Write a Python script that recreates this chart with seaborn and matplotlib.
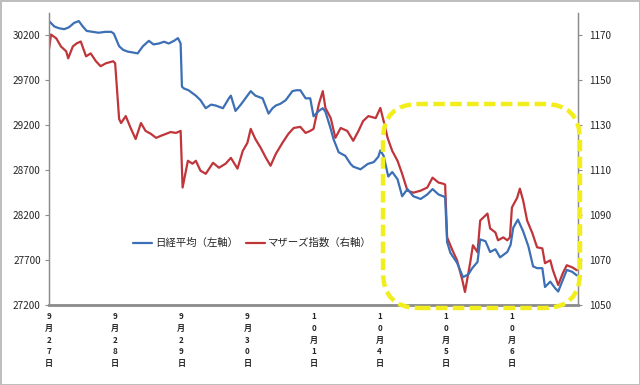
import matplotlib
matplotlib.use("Agg")
import matplotlib.pyplot as plt
from matplotlib.patches import FancyBboxPatch
from matplotlib.ticker import MultipleLocator
import seaborn as sns

# ---- data (t = days since 9/27 open) -------------------------------------
nk_t = [0.00, 0.08, 0.15, 0.23, 0.30, 0.38, 0.45, 0.51, 0.57, 0.66, 0.75, 0.85,
        0.94, 0.98, 1.06, 1.12, 1.19, 1.27, 1.34, 1.42, 1.51, 1.58, 1.66, 1.74,
        1.81, 1.89, 1.95, 1.99, 2.01, 2.04, 2.11, 2.22, 2.29, 2.37, 2.45, 2.52,
        2.63, 2.72, 2.75, 2.82, 2.90, 2.97, 3.05, 3.12, 3.23, 3.32, 3.38, 3.43,
        3.50, 3.58, 3.68, 3.74, 3.80, 3.88, 3.95, 4.00, 4.08, 4.14, 4.18, 4.26,
        4.30, 4.38, 4.48, 4.56, 4.60, 4.71, 4.82, 4.91, 4.98, 5.01, 5.06, 5.13,
        5.19, 5.27, 5.34, 5.42, 5.51, 5.62, 5.72, 5.80, 5.89, 5.96, 5.99, 6.02,
        6.07, 6.17, 6.26, 6.34, 6.40, 6.48, 6.52, 6.60, 6.67, 6.75, 6.82, 6.93,
        6.98, 7.02, 7.09, 7.17, 7.25, 7.32, 7.38, 7.46, 7.50, 7.58, 7.65, 7.70,
        7.77, 7.83, 7.91, 7.98]
nk_v = [30360, 30300, 30280, 30270, 30290, 30340, 30360, 30300, 30250, 30240,
        30230, 30240, 30240, 30220, 30080, 30040, 30020, 30010, 30000, 30080,
        30140, 30100, 30110, 30130, 30110, 30140, 30170, 30110, 29630, 29610,
        29590, 29530, 29480, 29390, 29430, 29420, 29390, 29500, 29530, 29360,
        29430, 29500, 29580, 29530, 29500, 29330, 29390, 29420, 29440, 29480,
        29580, 29590, 29590, 29500, 29500, 29300, 29360, 29390, 29350, 29160,
        29050, 28900, 28860, 28770, 28740, 28710, 28770, 28790, 28850, 28920,
        28860, 28630, 28680, 28600, 28410, 28490, 28410, 28380, 28430, 28490,
        28430, 28410, 28400, 27900, 27780, 27670, 27510, 27540, 27610, 27680,
        27930, 27910, 27790, 27820, 27730, 27790, 27870, 28060, 28150, 28020,
        27850, 27630, 27610, 27610, 27400, 27460, 27390, 27350, 27480, 27590,
        27570, 27530]

mz_t = [0.00, 0.03, 0.11, 0.18, 0.26, 0.29, 0.36, 0.42, 0.48, 0.56, 0.63, 0.71,
        0.78, 0.86, 0.97, 1.00, 1.06, 1.09, 1.16, 1.24, 1.31, 1.39, 1.46, 1.54,
        1.62, 1.69, 1.77, 1.84, 1.92, 1.99, 2.02, 2.10, 2.17, 2.22, 2.29, 2.37,
        2.48, 2.57, 2.67, 2.75, 2.85, 2.93, 3.00, 3.05, 3.12, 3.20, 3.28, 3.35,
        3.43, 3.53, 3.62, 3.70, 3.80, 3.88, 3.95, 4.00, 4.08, 4.14, 4.18, 4.26,
        4.33, 4.41, 4.51, 4.60, 4.68, 4.75, 4.83, 4.94, 5.01, 5.06, 5.12, 5.19,
        5.27, 5.34, 5.42, 5.51, 5.62, 5.72, 5.80, 5.89, 5.96, 5.99, 6.02, 6.10,
        6.17, 6.25, 6.29, 6.37, 6.41, 6.48, 6.52, 6.57, 6.63, 6.67, 6.75, 6.79,
        6.87, 6.93, 6.97, 7.00, 7.08, 7.12, 7.17, 7.23, 7.31, 7.38, 7.46, 7.50,
        7.58, 7.62, 7.70, 7.77, 7.83, 7.91, 7.98]
mz_v = [1163.8, 1170.4, 1168.7, 1165.1, 1162.9, 1159.8, 1165.1, 1166.5, 1167.3,
        1160.7, 1162.0, 1158.5, 1156.3, 1157.6, 1158.5, 1157.6, 1132.8, 1131.0,
        1134.1, 1128.4, 1123.9, 1131.0, 1127.5, 1126.2, 1124.4, 1125.3, 1126.2,
        1127.0, 1126.6, 1127.5, 1102.3, 1114.2, 1112.9, 1114.2, 1109.8, 1108.4,
        1113.3, 1111.1, 1112.9, 1115.5, 1110.7, 1118.6, 1122.2, 1128.4, 1123.9,
        1120.0, 1115.5, 1112.0, 1117.3, 1122.2, 1126.2, 1128.8, 1129.3, 1126.6,
        1127.5, 1128.4, 1139.4, 1145.2, 1137.7, 1133.2, 1124.4, 1128.8, 1127.5,
        1123.1, 1127.5, 1131.9, 1134.1, 1133.2, 1137.7, 1131.9, 1124.4, 1118.6,
        1114.2, 1108.4, 1100.9, 1100.0, 1100.9, 1102.3, 1106.7, 1104.5, 1104.0,
        1103.6, 1080.1, 1074.4, 1069.9, 1061.1, 1055.8, 1069.0, 1076.6, 1073.5,
        1087.6, 1089.0, 1090.7, 1084.1, 1082.3, 1078.8, 1080.1, 1078.8, 1080.1,
        1093.4, 1097.8, 1101.8, 1096.5, 1087.6, 1081.9, 1075.7, 1075.2, 1068.6,
        1069.9, 1065.5, 1058.9, 1064.2, 1067.7, 1066.8, 1065.5]

day_labels = ["9月27日", "9月28日", "9月29日", "9月30日", "10月1日", "10月4日", "10月5日", "10月6日"]
left_ticks = [27200, 27700, 28200, 28700, 29200, 29700, 30200]
right_ticks = [1050, 1070, 1090, 1110, 1130, 1150, 1170]

BLUE = "#3C6FB5"
RED = "#C0353A"
GRID = "#8C8C8C"

sns.set_style("white")
plt.rcParams["font.family"] = ["Noto Sans CJK JP", "DejaVu Sans"]

fig = plt.figure(figsize=(6.4, 3.85), dpi=100)
fig.patch.set_facecolor("white")
fig.patch.set_edgecolor("#BEBEBE")
fig.patch.set_linewidth(2)

ax = fig.add_axes([0.0766, 0.2078, 0.8266, 0.7585])
ax2 = ax.twinx()

sns.lineplot(x=nk_t, y=nk_v, ax=ax, color=BLUE, lw=1.6, label="日経平均（左軸）", legend=False)
sns.lineplot(x=mz_t, y=mz_v, ax=ax2, color=RED, lw=1.6, label="マザーズ指数（右軸）", legend=False)
ax.set_zorder(ax2.get_zorder() + 1)
ax.patch.set_visible(False)

ax.set_xlim(0, 8)
ax.set_ylim(27200, 30450)
ax2.set_ylim(1050, 1180)
ax.set_yticks(left_ticks)
ax2.set_yticks(right_ticks)
ax.set_yticklabels([str(v) for v in left_ticks], fontsize=7.2)
ax2.set_yticklabels([str(v) for v in right_ticks], fontsize=7.2)

ax.set_xticks(range(len(day_labels)))
ax.set_xticklabels(["\n".join(lbl) for lbl in day_labels], fontsize=5.8,
                   linespacing=1.4, va="top", fontweight="bold")
ax.xaxis.set_minor_locator(MultipleLocator(1 / 6))
ax.tick_params(axis="x", which="major", length=4, color=GRID, width=1, pad=3, direction="inout")
ax.tick_params(axis="x", which="minor", length=3, color=GRID, width=1, direction="inout")
ax.tick_params(axis="y", length=3, color=GRID, width=0.8, pad=3)
ax2.tick_params(axis="y", length=3, color=GRID, width=0.8, pad=5)

for a in (ax, ax2):
    for side, sp in a.spines.items():
        sp.set_color(GRID)
        sp.set_linewidth(0.9)
    a.spines["top"].set_visible(False)
    a.set_xlabel("")
    a.set_ylabel("")
ax.spines["bottom"].set_linewidth(2)

h1, l1 = ax.get_legend_handles_labels()
h2, l2 = ax2.get_legend_handles_labels()
ax.legend(h1 + h2, l1 + l2, loc="center", bbox_to_anchor=(0.385, 0.212), ncol=2,
          frameon=False, fontsize=7.5, handlelength=1.8, handletextpad=0.3,
          columnspacing=0.8)

# yellow dashed highlight box (in inches, drawn over everything)
box = FancyBboxPatch((3.83, 0.77), 1.97, 2.04,
                     boxstyle="round,pad=0,rounding_size=0.36",
                     transform=fig.dpi_scale_trans, fill=False,
                     edgecolor="#F2EE1E", linewidth=3.2,
                     linestyle=(0, (2.6, 1.2)), zorder=10)
fig.patches.append(box)

fig.savefig("out.png", dpi=100)
